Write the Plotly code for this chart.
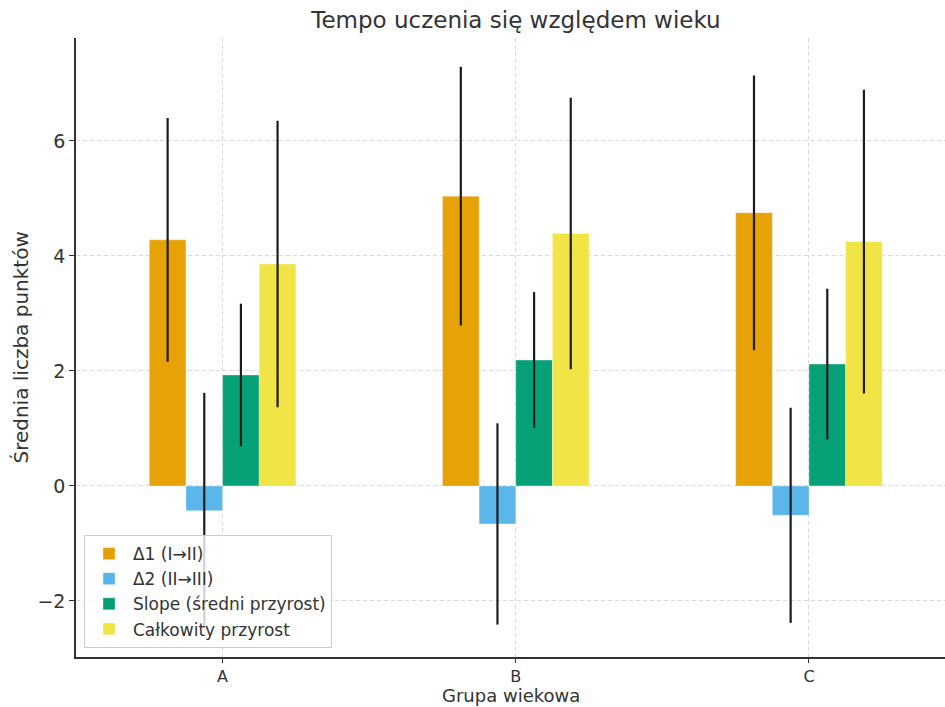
import plotly.graph_objects as go

categories = ["A", "B", "C"]
series_names = ["Δ1 (I→II)", "Δ2 (II→III)", "Slope (średni przyrost)", "Całkowity przyrost"]
delta1 = [4.28, 5.04, 4.75]
delta1_err = [2.12, 2.25, 2.39]
delta2 = [-0.43, -0.66, -0.51]
delta2_err = [2.05, 1.75, 1.87]
slope = [1.93, 2.19, 2.12]
slope_err = [1.24, 1.18, 1.31]
total = [3.86, 4.39, 4.25]
total_err = [2.49, 2.36, 2.64]
colors = ["#E69F00", "#56B4E9", "#009E73", "#F0E442"]

values = [delta1, delta2, slope, total]
errors = [delta1_err, delta2_err, slope_err, total_err]

FONT = "DejaVu Sans"
TXT = "#333333"
fig = go.Figure()
for name, v, e, c in zip(series_names, values, errors, colors):
    fig.add_trace(go.Bar(
        x=categories, y=v, name=name,
        marker=dict(color=c, opacity=0.97, line=dict(width=0.6, color="rgba(255,255,255,0.6)")),
        error_y=dict(type="data", array=e, visible=True, thickness=2.2, width=0, color="#1c1c1c"),
    ))

fig.update_layout(
    width=945, height=707,
    margin=dict(l=76, r=0, t=38, b=50, autoexpand=False),
    paper_bgcolor="white", plot_bgcolor="white",
    barmode="group", bargap=0.5, bargroupgap=0,
    font=dict(family=FONT, color=TXT),
    title=dict(text="Tempo uczenia się względem wieku", x=0.546, xanchor="center",
               y=0.972, yanchor="middle", yref="container",
               font=dict(size=23, family=FONT, color=TXT)),
    legend=dict(x=0.0092, y=0.0145, xanchor="left", yanchor="bottom",
                bgcolor="rgba(255,255,255,0.8)", bordercolor="#cccccc", borderwidth=1,
                itemwidth=38,
                font=dict(size=17, family=FONT, color=TXT)),
    showlegend=True,
    annotations=[
        dict(text="Grupa wiekowa", xref="paper", yref="paper", x=0.5, y=-0.0808,
             xanchor="center", yanchor="bottom", showarrow=False, borderpad=0,
             font=dict(size=18, family=FONT, color=TXT)),
        dict(text="Średnia liczba punktów", xref="paper", yref="paper", x=-0.0644, y=0.5,
             xanchor="center", yanchor="middle", showarrow=False, textangle=-90,
             font=dict(size=20, family=FONT, color=TXT)),
    ],
)
fig.update_xaxes(
    range=[-0.5, 2.464], showline=True, linecolor=TXT, linewidth=1.5, automargin=False,
    ticks="outside", ticklen=4, tickcolor=TXT, tickwidth=1.2, ticklabelstandoff=0,
    tickfont=dict(size=16, family=FONT, color=TXT),
    showgrid=True, gridcolor="#dadada", griddash="4px,3px", gridwidth=1,
    zeroline=False,
)
fig.update_yaxes(
    range=[-2.974, 7.79], tickvals=[-2, 0, 2, 4, 6], ticktext=["−2", "0", "2", "4", "6"],
    showline=True, linecolor=TXT, linewidth=1.5, automargin=False,
    ticks="outside", ticklen=5, tickcolor=TXT, tickwidth=1.2,
    tickfont=dict(size=19, family=FONT, color=TXT),
    showgrid=True, gridcolor="#dadada", griddash="4px,3px", gridwidth=1,
    zeroline=False,
)
fig.write_html("out.html", config={"displayModeBar": False},
               post_script="document.body.style.margin='0';")
